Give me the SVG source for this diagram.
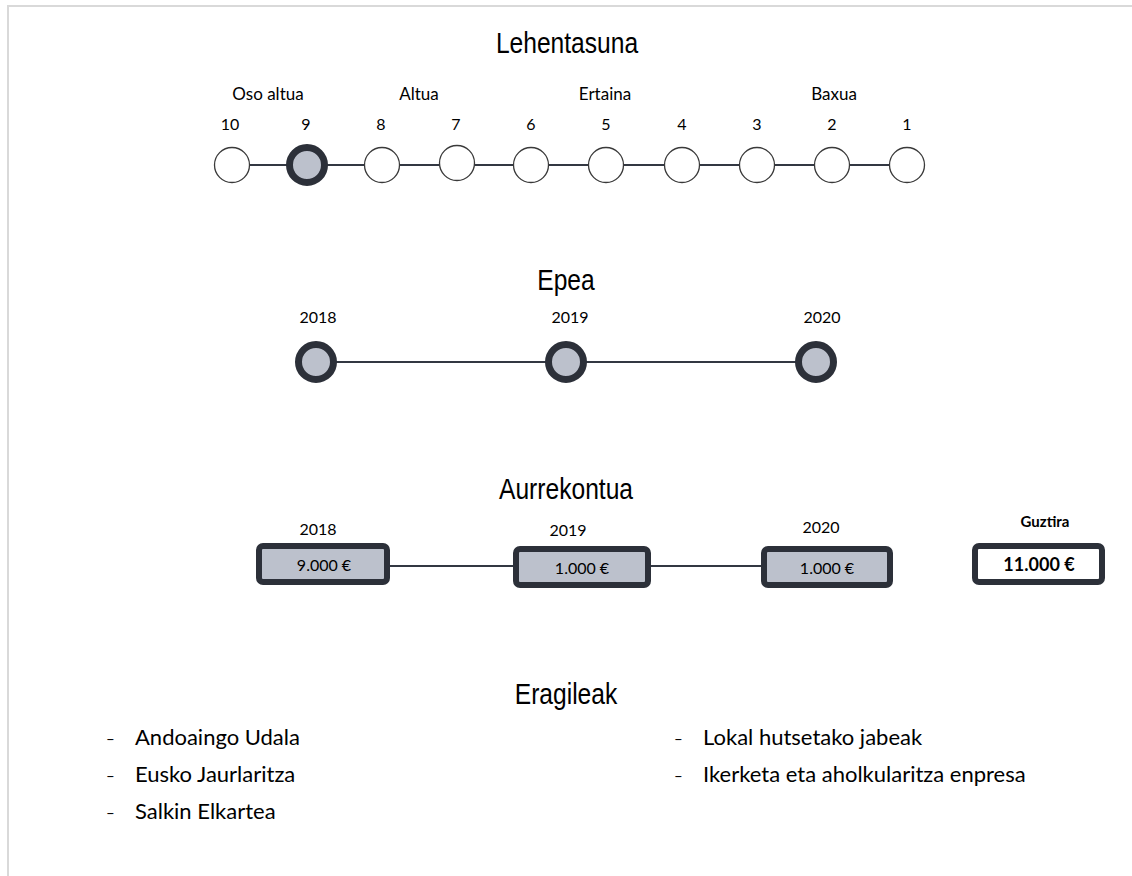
<svg xmlns="http://www.w3.org/2000/svg" width="1132" height="876" viewBox="0 0 1132 876">
<style>
.title{font-family:"Liberation Sans",Arial,sans-serif;font-size:30px;fill:#000;text-anchor:middle}
.lbl{font-family:Lato,"Open Sans",sans-serif;font-size:16px;fill:#000;text-anchor:middle}
.grp{font-size:17px}
.val{font-family:Lato,"Open Sans",sans-serif;font-size:16px;fill:#000;text-anchor:middle}
.bold{font-weight:bold}
.item{font-family:Lato,"Open Sans",sans-serif;font-size:22px;fill:#000}
.dash{font-family:Lato,"Open Sans",sans-serif;font-size:15px;fill:#000}
.open{fill:#fff;stroke:#3a3a3a;stroke-width:1.3}
.ring{fill:#bcc1cc;stroke:#2c3039;stroke-width:7}
.box{fill:#bcc1cc;stroke:#2c3039;stroke-width:6}
.wbox{fill:#fff;stroke:#2c3039;stroke-width:6}
.link{stroke:#333842;stroke-width:2;fill:none}
.frame{stroke:#d9d9d9;stroke-width:2;fill:none}
</style>
<rect width="1132" height="876" fill="#fff"/>
<path class="frame" d="M8,876 V6 H1132"/>
<g id="connectors">
<line class="link" x1="249" y1="165" x2="290" y2="165"/>
<line class="link" x1="324" y1="165" x2="365" y2="165"/>
<line class="link" x1="399" y1="165" x2="440" y2="165"/>
<line class="link" x1="474" y1="165" x2="515" y2="165"/>
<line class="link" x1="549" y1="165" x2="590" y2="165"/>
<line class="link" x1="624" y1="165" x2="665" y2="165"/>
<line class="link" x1="699" y1="165" x2="740" y2="165"/>
<line class="link" x1="774" y1="165" x2="815" y2="165"/>
<line class="link" x1="849" y1="165" x2="890" y2="165"/>
<line class="link" x1="334" y1="362" x2="546" y2="362"/>
<line class="link" x1="586" y1="362" x2="796" y2="362"/>
<line class="link" x1="390" y1="566" x2="513" y2="566"/>
<line class="link" x1="651" y1="566" x2="761" y2="566"/>
</g>
<g id="lehentasuna">
<text class="title" transform="translate(567,53) scale(0.82,1)">Lehentasuna</text>
<text class="lbl grp" x="268" y="100">Oso altua</text>
<text class="lbl grp" x="419" y="100">Altua</text>
<text class="lbl grp" x="605" y="100">Ertaina</text>
<text class="lbl grp" x="834" y="100">Baxua</text>
<g id="p10"><text class="lbl" x="230" y="130">10</text><circle class="open" cx="232" cy="165" r="17.5"/></g>
<g id="p9"><text class="lbl" x="306" y="130">9</text><circle class="ring" cx="307" cy="165" r="17.5"/></g>
<g id="p8"><text class="lbl" x="381" y="130">8</text><circle class="open" cx="382" cy="165" r="17.5"/></g>
<g id="p7"><text class="lbl" x="456" y="130">7</text><circle class="open" cx="457" cy="163" r="17.5"/></g>
<g id="p6"><text class="lbl" x="531" y="130">6</text><circle class="open" cx="531" cy="165" r="17.5"/></g>
<g id="p5"><text class="lbl" x="606" y="130">5</text><circle class="open" cx="606" cy="165" r="17.5"/></g>
<g id="p4"><text class="lbl" x="682" y="130">4</text><circle class="open" cx="682" cy="165" r="17.5"/></g>
<g id="p3"><text class="lbl" x="757" y="130">3</text><circle class="open" cx="757" cy="165" r="17.5"/></g>
<g id="p2"><text class="lbl" x="832" y="130">2</text><circle class="open" cx="832" cy="165" r="17.5"/></g>
<g id="p1"><text class="lbl" x="907" y="130">1</text><circle class="open" cx="907" cy="165" r="17.5"/></g>
</g>
<g id="epea">
<text class="title" transform="translate(566,290) scale(0.82,1)">Epea</text>
<g id="e2018"><text class="lbl" x="318" y="323">2018</text><circle class="ring" cx="316" cy="362" r="17.5"/></g>
<g id="e2019"><text class="lbl" x="570" y="323">2019</text><circle class="ring" cx="566" cy="362" r="17.5"/></g>
<g id="e2020"><text class="lbl" x="822" y="323">2020</text><circle class="ring" cx="816" cy="362" r="17.5"/></g>
</g>
<g id="aurrekontua">
<text class="title" transform="translate(566,499) scale(0.82,1)">Aurrekontua</text>
<g id="a2018"><text class="lbl" x="318" y="535">2018</text><rect class="box" x="259" y="546" width="128" height="36" rx="4"/><text class="val" x="324" y="571">9.000 €</text></g>
<g id="a2019"><text class="lbl" x="568" y="536">2019</text><rect class="box" x="516" y="549" width="132" height="36" rx="4"/><text class="val" x="582" y="574">1.000 €</text></g>
<g id="a2020"><text class="lbl" x="821" y="533">2020</text><rect class="box" x="764" y="549" width="126" height="36" rx="4"/><text class="val" x="827" y="574">1.000 €</text></g>
<g id="guztira"><text class="lbl bold" x="1045" y="527" style="font-size:15px">Guztira</text><rect class="wbox" x="975" y="546" width="127" height="36" rx="4"/><text class="val bold" x="1039" y="571" style="font-size:18px">11.000 €</text></g>
</g>
<g id="eragileak">
<text class="title" transform="translate(566,704) scale(0.82,1)">Eragileak</text>
<text class="dash" x="106" y="744">–</text><text class="item" x="135" y="745">Andoaingo Udala</text>
<text class="dash" x="106" y="781">–</text><text class="item" x="135" y="782">Eusko Jaurlaritza</text>
<text class="dash" x="106" y="818">–</text><text class="item" x="135" y="819">Salkin Elkartea</text>
<text class="dash" x="674" y="744">–</text><text class="item" x="703" y="745">Lokal hutsetako jabeak</text>
<text class="dash" x="674" y="781">–</text><text class="item" x="703" y="782">Ikerketa eta aholkularitza enpresa</text>
</g>
</svg>
